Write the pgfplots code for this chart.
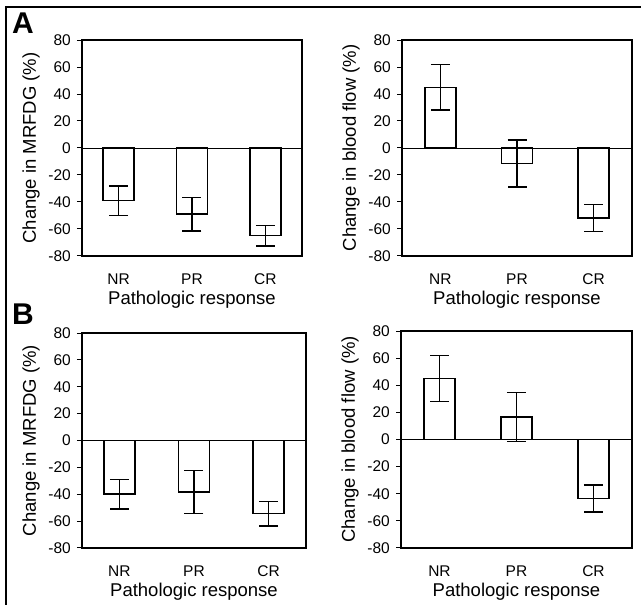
\documentclass[border=0pt]{standalone}
\usepackage{pgfplots}
\pgfplotsset{compat=1.18}
\usepackage{fontspec}
\setmainfont{Liberation Sans}

\pgfplotsset{
  panel/.style={
    scale only axis,
    anchor=south west,
    ybar, bar width=31pt,
    xmin=0.5, xmax=3.5, ymin=-80, ymax=80,
    xtick={1,2,3}, xticklabels={NR,PR,CR},
    xtick style={draw=none},
    ytick={-80,-60,-40,-20,0,20,40,60,80},
    yticklabels={-80,-60,-40,-20,0,20,40,60,80},
    ytick pos=left,
    tick align=outside, major tick length=5pt,
    axis line style={line width=1.3pt},
    ytick style={line width=1pt, black},
    tick label style={font=\fontsize{15.5}{17}\selectfont},
    label style={font=\fontsize{18.5}{21}\selectfont},
    yticklabel style={anchor=east, inner sep=0pt, xshift=-6pt},
    xticklabel style={anchor=base, yshift=-24pt},
    xlabel={Pathologic response},
    xlabel style={at={([yshift=-43.5pt]axis description cs:0.5,0)}, anchor=center},
    ylabel style={at={([xshift=-51pt]axis description cs:0,0.5)}, anchor=center},
    extra y ticks={0}, extra y tick labels={},
    extra y tick style={grid=major, major grid style={black, line width=0.5pt},
                        major tick length=0pt},
  },
  bars/.style={fill=white, draw=black, line width=1.5pt,
    error bars/.cd, y dir=both, y explicit,
    error bar style={line width=1.5pt, black},
    error mark options={rotate=90, black, line width=1.5pt, mark size=9.5pt}},
}

\begin{document}
\begin{tikzpicture}
\useasboundingbox (0,0) rectangle (641pt,605pt);

% ---- A: MRFDG ----
\begin{axis}[panel, at={(82pt,349pt)}, width=220pt, height=216pt,
    ylabel={Change in MRFDG (\%)}]
\addplot[bars] coordinates {
    (1,-39) +- (0,11)
    (2,-49) +- (0,12.5)
    (3,-65) +- (0,7.5)
};
\end{axis}

% ---- A: blood flow ----
\begin{axis}[panel, at={(402pt,349pt)}, width=230pt, height=216pt,
    ylabel={Change in blood flow (\%)}]
\addplot[bars] coordinates {
    (1,45) +- (0,17)
    (2,-11.5) +- (0,17.5)
    (3,-52) +- (0,10)
};
\end{axis}

% ---- B: MRFDG ----
\begin{axis}[panel, at={(82pt,57pt)}, width=224pt, height=215pt,
    ylabel={Change in MRFDG (\%)}]
\addplot[bars] coordinates {
    (1,-40) +- (0,11)
    (2,-38.5) +- (0,16)
    (3,-54.5) +- (0,9)
};
\end{axis}

% ---- B: blood flow ----
\begin{axis}[panel, at={(401pt,57pt)}, width=231pt, height=217pt,
    ylabel={Change in blood flow (\%)}]
\addplot[bars] coordinates {
    (1,45) +- (0,17)
    (2,16.5) +- (0,18)
    (3,-43.5) +- (0,10)
};
\end{axis}

% panel letters and frame
\node[font=\fontsize{30}{32}\selectfont\bfseries] at (23pt,582pt) {A};
\node[font=\fontsize{30}{32}\selectfont\bfseries] at (23pt,291pt) {B};
\draw[line width=2.5pt] (6pt,0pt) -- (6pt,598pt) -- (641pt,598pt);
\end{tikzpicture}
\end{document}
